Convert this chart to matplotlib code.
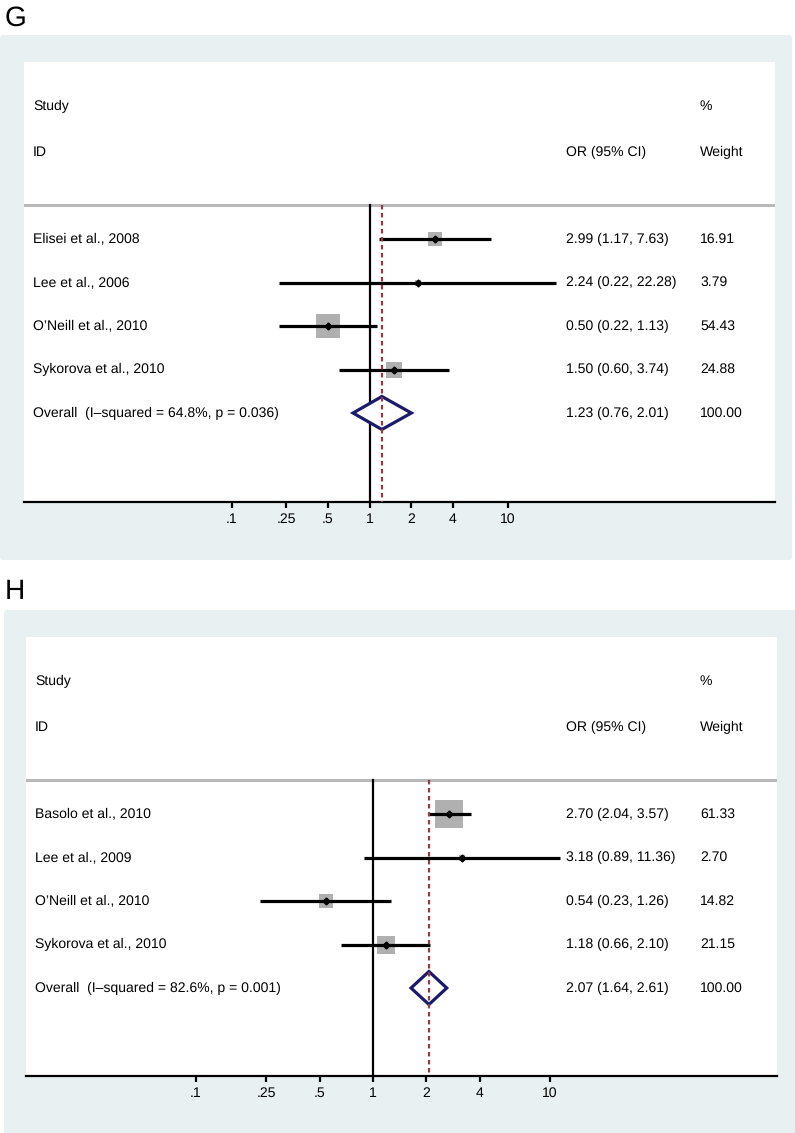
import numpy as np
import matplotlib
matplotlib.use("Agg")
import matplotlib.pyplot as plt
from matplotlib.patches import Polygon, FancyBboxPatch
from matplotlib.transforms import blended_transform_factory

plt.rcParams["font.family"] = ["Liberation Sans", "DejaVu Sans"]
plt.rcParams["text.hinting"] = "no_hinting"
plt.rcParams["text.hinting_factor"] = 1

W, H = 795, 1133

# panel G data
g_studies = ["Elisei et al., 2008", "Lee et al., 2006", "O’Neill et al., 2010", "Sykorova et al., 2010"]
g_or = [2.99, 2.24, 0.50, 1.50]
g_lo = [1.17, 0.22, 0.22, 0.60]
g_hi = [7.63, 22.28, 1.13, 3.74]
g_weight = [16.91, 3.79, 54.43, 24.88]
g_overall = [1.23, 0.76, 2.01]
g_het = "Overall  (I–squared = 64.8%, p = 0.036)"

# panel H data
h_studies = ["Basolo et al., 2010", "Lee et al., 2009", "O’Neill et al., 2010", "Sykorova et al., 2010"]
h_or = [2.70, 3.18, 0.54, 1.18]
h_lo = [2.04, 0.89, 0.23, 0.66]
h_hi = [3.57, 11.36, 1.26, 2.10]
h_weight = [61.33, 2.70, 14.82, 21.15]
h_overall = [2.07, 1.64, 2.61]
h_het = "Overall  (I–squared = 82.6%, p = 0.001)"

tick_vals = [0.1, 0.25, 0.5, 1, 2, 4, 10]
tick_labels = [".1", ".25", ".5", "1", "2", "4", "10"]

BG = "#e8f0f2"
ROW = 43.5  # px between rows
NARROW = ["Liberation Sans Narrow", "Liberation Sans", "DejaVu Sans"]


def px_rect(x0, y0, x1, y1):
    return [x0 / W, 1 - y1 / H, (x1 - x0) / W, (y1 - y0) / H]


def draw_panel(letter, letter_y, bg, white, one_px, decade_px,
               studies, ors, los, his, weights, overall, het, box_px):
    # grey graph region
    fig.patches.append(FancyBboxPatch((bg[0] / W, 1 - bg[3] / H),
                                      (bg[2] - bg[0]) / W, (bg[3] - bg[1]) / H,
                                      boxstyle="round,pad=0,rounding_size=0.004",
                                      transform=fig.transFigure, facecolor=BG,
                                      edgecolor="none", zorder=-5))
    fig.text(5 / W, 1 - letter_y / H, letter, fontsize=20, va="center", ha="left")

    x0, y0, x1, y1 = white
    ax = fig.add_axes(px_rect(x0, y0, x1, y1))
    ax.set_zorder(1)
    ax.set_facecolor("white")
    ax.set_xscale("log")
    ax.set_xlim(10 ** ((x0 - one_px) / decade_px), 10 ** ((x1 - one_px) / decade_px))
    first_row = y0 + 177  # first study row in px
    ax.set_ylim((y1 - first_row) / ROW, (y0 - first_row) / ROW)
    ybot = (y1 - first_row) / ROW
    sep = -0.78

    for s in ["top", "left", "right"]:
        ax.spines[s].set_visible(False)
    ax.spines["bottom"].set_linewidth(1.6)
    ax.set_yticks([])
    ax.set_xticks(tick_vals)
    ax.set_xticklabels(tick_labels, family=NARROW)
    ax.minorticks_off()
    ax.tick_params(axis="x", direction="out", length=4.5, width=1.6, pad=3.5,
                   labelsize=10)

    tr = blended_transform_factory(ax.transAxes, ax.transData)

    def fx(px):
        return (px - x0) / (x1 - x0)

    fs = 10.3
    ax.text(fx(x0 + 9), -3.05, "Study", transform=tr, fontsize=fs, va="center")
    ax.text(fx(x0 + 9), -2.0, "ID", transform=tr, fontsize=fs, va="center")
    ax.text(fx(566), -2.0, "OR (95% CI)", transform=tr, fontsize=fs, va="center")
    ax.text(fx(700), -3.05, "%", transform=tr, fontsize=fs, va="center")
    ax.text(fx(700), -2.0, "Weight", transform=tr, fontsize=fs, va="center")

    ax.axhline(sep, color="#b8b8b8", lw=2.2, zorder=1)

    rows = np.arange(len(studies))
    scale = box_px / np.sqrt(max(weights))
    for r, name, o, lo, hi, w in zip(rows, studies, ors, los, his, weights):
        side = scale * np.sqrt(w) / 1.389
        ax.plot([o], [r], marker="s", markersize=side, color="#b0b0b0",
                markeredgewidth=0, zorder=2)
        ax.plot([lo, hi], [r, r], color="black", lw=2.3, solid_capstyle="butt", zorder=3)
        ax.plot([o], [r], marker="D", markersize=3.5, color="black", zorder=4)
        ax.text(fx(x0 + 9), r, name, transform=tr, fontsize=fs, va="center")
        ax.text(fx(566), r, f"{o:.2f} ({lo:.2f}, {hi:.2f})", transform=tr,
                fontsize=fs, va="center")
        ax.text(fx(700), r, f"{w:.2f}", transform=tr, fontsize=fs, va="center")

    orow = len(studies)
    est, lo, hi = overall
    hh = 16.5 / ROW
    ax.add_patch(Polygon([(lo, orow), (est, orow - hh), (hi, orow), (est, orow + hh)],
                         closed=True, facecolor="white", edgecolor="#1b1b6b",
                         lw=2.3, zorder=5))
    ax.text(fx(x0 + 9), orow, het, transform=tr, fontsize=fs, va="center")
    ax.text(fx(566), orow, f"{est:.2f} ({lo:.2f}, {hi:.2f})", transform=tr,
            fontsize=fs, va="center")
    ax.text(fx(700), orow, f"{100:.2f}", transform=tr, fontsize=fs, va="center")

    ax.plot([1, 1], [sep, ybot], color="black", lw=1.6, zorder=2)
    ax.plot([est, est], [sep, ybot], color="#933c42", lw=1.6,
            dashes=[2.0, 1.6], zorder=6)
    return ax


fig = plt.figure(figsize=(W / 100, H / 100), dpi=100)
fig.patch.set_facecolor("white")

draw_panel("G", 18, (0, 35, 792, 560), (24, 62, 775, 502), 369.5, 138,
           g_studies, g_or, g_lo, g_hi, g_weight, g_overall, g_het, 24)
draw_panel("H", 592, (4, 610, 797, 1136), (26, 637, 777, 1076), 373, 177,
           h_studies, h_or, h_lo, h_hi, h_weight, h_overall, h_het, 29)

fig.savefig("out.png", dpi=100)
